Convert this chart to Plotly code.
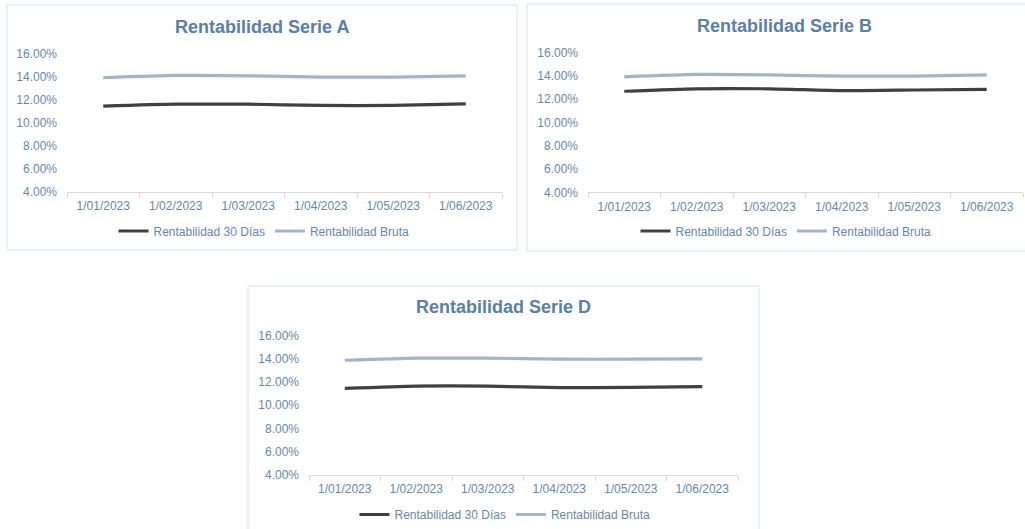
import plotly.graph_objects as go

W, H = 1025, 529

fechas = ["1/01/2023", "1/02/2023", "1/03/2023", "1/04/2023", "1/05/2023", "1/06/2023"]

serie_a_30 = [0.1142, 0.1159, 0.1159, 0.1148, 0.1148, 0.1162]
serie_a_bruta = [0.1388, 0.1408, 0.1405, 0.1394, 0.1394, 0.1404]

serie_b_30 = [0.1266, 0.1287, 0.1287, 0.1272, 0.1277, 0.1283]
serie_b_bruta = [0.1390, 0.1410, 0.1406, 0.1396, 0.1396, 0.1406]

serie_d_30 = [0.1145, 0.1165, 0.1165, 0.1151, 0.1154, 0.1160]
serie_d_bruta = [0.1388, 0.1406, 0.1406, 0.1397, 0.1397, 0.1400]

titulos = ["Rentabilidad Serie A", "Rentabilidad Serie B", "Rentabilidad Serie D"]
nombres = ["Rentabilidad 30 Días", "Rentabilidad Bruta"]

FONT = "Liberation Sans, Arial, sans-serif"
TXT = "#6788AC"
TITLE_C = "#5B80A6"
DARK = "#404040"
LIGHT = "#A3B6C7"
AXIS_C = "#D9D9D9"
BOX_C = "#D8E1EB"


def px_x(x):
    return x / W


def px_y(y):
    return 1 - y / H


# panel geometry in pixels: plot area x0, x1, y(16%), y(4%), box, title pos, legend pos
panels = [
    dict(data=(serie_a_30, serie_a_bruta), px=(67, 502), py=(53.3, 191.7),
         box=(7, 517, 5, 250), tx=262, ty=27, ly=231, lx=264),
    dict(data=(serie_b_30, serie_b_bruta), px=(588, 1023), py=(52.3, 192.3),
         box=(527, 1040, 4, 251), tx=784, ty=25.5, ly=231, lx=786),
    dict(data=(serie_d_30, serie_d_bruta), px=(309, 738), py=(335.7, 474.7),
         box=(248, 759, 286, 540), tx=503, ty=307, ly=514.5, lx=505),
]

fig = go.Figure()
layout = dict(
    width=W, height=H,
    margin=dict(l=0, r=0, t=0, b=0, pad=0, autoexpand=False),
    paper_bgcolor="white", plot_bgcolor="white",
    font=dict(family=FONT, size=12, color=TXT),
    showlegend=True,
    shapes=[], annotations=[],
)

for i, p in enumerate(panels):
    k = "" if i == 0 else str(i + 1)
    xa = "x" + k
    ya = "y" + k
    lg = "legend" + k
    for vals, name, color in zip(p["data"], nombres, [DARK, LIGHT]):
        fig.add_trace(go.Scatter(
            x=fechas, y=vals, name=name, mode="lines",
            line=dict(color=color, width=3.2, shape="spline", smoothing=0.6),
            xaxis=xa, yaxis=ya, legend=lg, hoverinfo="skip",
        ))
    layout["xaxis" + k] = dict(
        domain=[px_x(p["px"][0]), px_x(p["px"][1])], anchor=ya,
        type="category", range=[-0.5, 5.5],
        showline=True, linecolor=AXIS_C, linewidth=1,
        ticks="outside", tickson="boundaries", ticklen=5, tickcolor=AXIS_C,
        ticklabelstandoff=3,
        showgrid=False, zeroline=False, tickfont=dict(size=12, color=TXT),
        fixedrange=True, automargin=False,
    )
    layout["yaxis" + k] = dict(
        domain=[px_y(p["py"][1]), px_y(p["py"][0])], anchor=xa,
        range=[0.04, 0.16], dtick=0.02, tick0=0.04, tickformat=".2%",
        showline=False, showgrid=False, zeroline=False, ticks="",
        ticklabelstandoff=9, tickfont=dict(size=12, color=TXT),
        fixedrange=True, automargin=False,
    )
    layout[lg] = dict(
        orientation="h", x=px_x(p["lx"]), y=px_y(p["ly"]),
        xanchor="center", yanchor="middle",
        font=dict(size=12, color=TXT), bgcolor="rgba(0,0,0,0)",
        itemwidth=30, tracegroupgap=0,
    )
    bx0, bx1, by0, by1 = p["box"]
    layout["shapes"].append(dict(
        type="rect", xref="paper", yref="paper",
        x0=px_x(bx0), x1=px_x(bx1), y0=px_y(by1), y1=px_y(by0),
        line=dict(color=BOX_C, width=1), fillcolor="rgba(0,0,0,0)", layer="below",
    ))
    layout["annotations"].append(dict(
        text="<b>" + titulos[i] + "</b>", xref="paper", yref="paper",
        x=px_x(p["tx"]), y=px_y(p["ty"]),
        xanchor="center", yanchor="middle", showarrow=False,
        font=dict(size=18, color=TITLE_C, family=FONT),
    ))

fig.update_layout(**layout)
fig.write_html(
    "out.html",
    config={"displayModeBar": False},
    post_script="document.body.style.margin='0';document.body.style.overflow='hidden';",
)
